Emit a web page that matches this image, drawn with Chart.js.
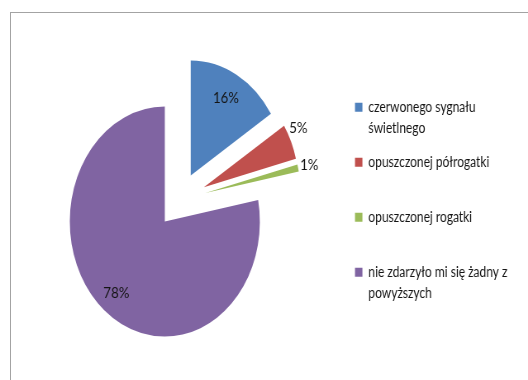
<!DOCTYPE html>
<html>
<head>
<meta charset="utf-8">
<script src="https://cdn.jsdelivr.net/npm/chart.js@4/dist/chart.umd.min.js"></script>
<style>
  html, body { margin: 0; padding: 0; background: #fff; overflow: hidden; width: 528px; height: 380px; }
  #frame {
    position: absolute; left: 10px; top: 12px; width: 600px; height: 500px;
    border-left: 1px solid #a3a3a3; border-top: 1px solid #a3a3a3;
  }
  #wrap {
    position: absolute; left: 0; top: 0; width: 680px; height: 380px;
    transform: scaleX(0.8263); transform-origin: 0 0;
  }
</style>
</head>
<body>
<div id="frame"></div>
<div id="wrap"><canvas id="c"></canvas></div>
<script>
// Legend entries (second line left blank for single-line entries)
const categories = [
  ['czerwonego sygnału', 'świetlnego'],
  ['opuszczonej półrogatki', ''],
  ['opuszczonej rogatki', ''],
  ['nie zdarzyło mi się żadny z', 'powyższych']
];
// Share of answers, in percent
const percentages = [16, 5, 1, 78];
const sliceColors = ['#4F81BD', '#C0504D', '#9BBB59', '#8064A2'];

// Styling of the exploded slices and their value labels
const explodeDistance = [28, 32, 32, 28];
const labelRadius = [0.77, 1.12, 1.12, 0.80];
const labelAngleNudge = [0, -4, 0, 0];
const FONT = 'Lato';

const explodePlugin = {
  id: 'explodeSlices',
  beforeDatasetDraw(chart, args) {
    const ctx = chart.ctx;
    args.meta.data.forEach((arc, i) => {
      const mid = (arc.startAngle + arc.endAngle) / 2;
      const d = explodeDistance[i];
      ctx.save();
      ctx.translate(Math.cos(mid) * d, Math.sin(mid) * d);
      arc.draw(ctx);
      ctx.restore();
    });
    return false;
  }
};

const valueLabelPlugin = {
  id: 'valueLabels',
  afterDatasetsDraw(chart) {
    const ctx = chart.ctx;
    const meta = chart.getDatasetMeta(0);
    ctx.save();
    ctx.font = '16px ' + FONT;
    ctx.fillStyle = '#141414';
    ctx.textAlign = 'center';
    ctx.textBaseline = 'middle';
    meta.data.forEach((arc, i) => {
      const mid = (arc.startAngle + arc.endAngle) / 2;
      const cx = arc.x + Math.cos(mid) * explodeDistance[i];
      const cy = arc.y + Math.sin(mid) * explodeDistance[i];
      const a = mid + labelAngleNudge[i] * Math.PI / 180;
      const r = arc.outerRadius * labelRadius[i];
      ctx.fillText(percentages[i] + '%', cx + Math.cos(a) * r, cy + Math.sin(a) * r);
    });
    ctx.restore();
  }
};

new Chart(document.getElementById('c'), {
  type: 'pie',
  data: {
    labels: categories,
    datasets: [{
      data: percentages,
      backgroundColor: sliceColors,
      borderWidth: 0,
      radius: 115,
      clip: false
    }]
  },
  options: {
    responsive: true,
    maintainAspectRatio: false,
    animation: false,
    layout: { padding: { left: 18, right: 63.4, top: 87, bottom: 67 } },
    plugins: {
      tooltip: { enabled: false },
      legend: {
        position: 'right',
        align: 'start',
        maxWidth: 200,
        labels: {
          boxWidth: 9,
          boxHeight: 9,
          padding: 13,
          color: '#141414',
          font: { family: FONT, size: 14.5, lineHeight: 1.448 }
        }
      }
    }
  },
  plugins: [explodePlugin, valueLabelPlugin]
});
</script>
</body>
</html>
